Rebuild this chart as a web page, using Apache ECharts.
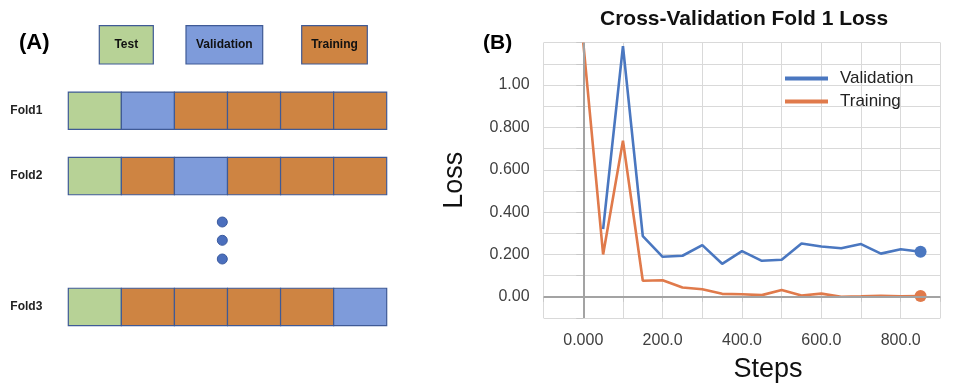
<!DOCTYPE html>
<html>
	<head>
		<meta charset="utf-8">
		<title>Cross-Validation Fold 1 Loss</title>
		<style type="text/css">
			html, body {
				margin: 0;
				padding: 0;
				background: #fff;
			}

			#main {
				width: 960px;
				height: 388px;
			}
		</style>
	</head>
	<body>
		<div id="main"></div>

		<script src="https://cdn.jsdelivr.net/npm/echarts@6/dist/echarts.min.js"></script>
		<script>
			// (A) 折叠划分
			var rowLabels = ['Fold1', 'Fold2', '', 'Fold3'];
			var fold1 = ['Test', 'Validation', 'Training', 'Training', 'Training', 'Training'];
			var fold2 = ['Test', 'Training', 'Validation', 'Training', 'Training', 'Training'];
			var fold3 = ['Test', 'Training', 'Training', 'Training', 'Training', 'Validation'];

			// (B) 损失曲线
			var steps = [0, 50, 100, 150, 200, 250, 300, 350, 400, 450, 500, 550, 600, 650, 700, 750, 800, 850];
			var validationLoss = [null, 0.32, 1.184, 0.287, 0.189, 0.194, 0.244, 0.156, 0.216, 0.17, 0.175, 0.252, 0.238, 0.229, 0.249, 0.204, 0.225, 0.213];
			var trainingLoss = [1.2, 0.2, 0.737, 0.076, 0.078, 0.044, 0.036, 0.014, 0.012, 0.008, 0.032, 0.006, 0.015, 0.0, 0.002, 0.005, 0.003, 0.004];

			var yTickValues = [0, 0.2, 0.4, 0.6, 0.8, 1.0];
			var yTickText = ['0.00', '0.200', '0.400', '0.600', '0.800', '1.00'];
			var xTickValues = [0, 200, 400, 600, 800];
			var xTickText = ['0.000', '200.0', '400.0', '600.0', '800.0'];

			var partColors = {
				Test: '#b7d296',
				Validation: '#7e9bda',
				Training: '#ce8442'
			};
			var cellBorder = '#3f5a96';
			var blue = '#4a77c0';
			var orange = '#e07a4b';
			var font = '"Liberation Sans", Arial, sans-serif';

			// 单元格
			var cells = [];
			var cellParts = [];
			[[fold1, 'Fold1'], [fold2, 'Fold2'], [fold3, 'Fold3']].forEach(function (f) {
				var row = rowLabels.indexOf(f[1]);
				f[0].forEach(function (part, col) {
					cells.push([col, row]);
					cellParts.push(part);
				});
			});

			function renderCell(params, api) {
				var start = api.coord([api.value(0), api.value(1)]);
				var size = api.size([1, 1]);
				var h = size[1] * 0.57;
				return {
					type: 'rect',
					shape: { x: start[0], y: start[1] - h / 2, width: size[0], height: h },
					style: { fill: partColors[cellParts[params.dataIndex]], stroke: cellBorder, lineWidth: 1.2 }
				};
			}

			function pickLabel(values, texts) {
				return function (v) {
					for (var i = 0; i < values.length; i++) {
						if (Math.abs(values[i] - v) < 1e-6) return texts[i];
					}
					return '';
				};
			}

			function pairs(ys) {
				return steps.map(function (s, i) { return [s, ys[i]]; });
			}

			// 图例方块
			var keyBoxes = [
				{ name: 'Test', x: 99.3, w: 54 },
				{ name: 'Validation', x: 186, w: 76.7 },
				{ name: 'Training', x: 301.7, w: 65.6 }
			];
			var graphics = [];
			keyBoxes.forEach(function (b) {
				graphics.push({
					type: 'rect',
					shape: { x: b.x, y: 25.7, width: b.w, height: 38.3 },
					style: { fill: partColors[b.name], stroke: cellBorder, lineWidth: 1.2 }
				});
				graphics.push({
					type: 'text',
					x: b.x + b.w / 2,
					y: 44.8,
					style: { text: b.name, font: 'bold 12px ' + font, fill: '#111', align: 'center', verticalAlign: 'middle' }
				});
			});
			[222, 240.3, 259].forEach(function (cy) {
				graphics.push({
					type: 'circle',
					shape: { cx: 222.3, cy: cy, r: 5 },
					style: { fill: '#4b6fbd', stroke: '#3a5a9e', lineWidth: 1 }
				});
			});
			graphics.push({
				type: 'text', x: 19, y: 43,
				style: { text: '(A)', font: 'bold 22px ' + font, fill: '#000', verticalAlign: 'middle' }
			});
			graphics.push({
				type: 'text', x: 483, y: 43,
				style: { text: '(B)', font: 'bold 21px ' + font, fill: '#000', verticalAlign: 'middle' }
			});

			var myChart = echarts.init(document.getElementById('main'));

			var option = {
				animation: false,
				title: {
					text: 'Cross-Validation Fold 1 Loss',
					left: 595,
					top: 4,
					textStyle: { fontFamily: font, fontSize: 21, fontWeight: 'bold', color: '#111' }
				},
				legend: {
					data: ['Validation', 'Training'],
					orient: 'vertical',
					left: 785,
					top: 70,
					padding: 0,
					icon: 'rect',
					itemWidth: 43,
					itemHeight: 4,
					itemGap: 6,
					textStyle: { fontFamily: font, fontSize: 17, color: '#222', padding: [0, 0, 0, 7] }
				},
				graphic: graphics,
				grid: [{
					left: 543.6,
					right: 19.6,
					top: 42.7,
					bottom: 70
				}, {
					left: 68.3,
					right: 573.3,
					top: 78,
					bottom: 48.4
				}],
				xAxis: [{
					type: 'value',
					min: -100,
					max: 900,
					interval: 100,
					name: 'Steps',
					nameLocation: 'middle',
					nameGap: 38,
					nameTextStyle: { fontFamily: font, fontSize: 27, color: '#111', padding: [0, 0, 0, 52] },
					axisLine: { show: true, lineStyle: { color: '#d4d4d4', width: 1 } },
					axisTick: { show: true, length: 5, lineStyle: { color: '#c8c8c8' } },
					axisLabel: {
						margin: 15,
						fontFamily: font,
						fontSize: 16,
						color: '#404040',
						formatter: pickLabel(xTickValues, xTickText)
					},
					splitLine: { show: true, lineStyle: { color: '#d9d9d9', width: 1 } }
				}, {
					gridIndex: 1,
					type: 'value',
					min: 0,
					max: 6,
					show: false
				}],
				yAxis: [{
					type: 'value',
					min: -0.1,
					max: 1.2,
					interval: 0.1,
					name: 'Loss',
					nameLocation: 'middle',
					nameGap: 76,
					nameTextStyle: { fontFamily: font, fontSize: 27, color: '#111' },
					axisLine: { show: true, lineStyle: { color: '#d4d4d4', width: 1 } },
					axisTick: { show: true, length: 7, lineStyle: { color: '#c8c8c8' } },
					axisLabel: {
						margin: 14,
						fontFamily: font,
						fontSize: 16,
						color: '#404040',
						formatter: pickLabel(yTickValues, yTickText)
					},
					splitLine: { show: true, lineStyle: { color: '#d9d9d9', width: 1 } }
				}, {
					gridIndex: 1,
					type: 'category',
					data: rowLabels,
					inverse: true,
					axisLine: { show: false },
					axisTick: { show: false },
					splitLine: { show: false },
					axisLabel: {
						margin: 26,
						fontFamily: font,
						fontSize: 12,
						fontWeight: 'bold',
						color: '#222'
					}
				}],
				series: [{
					name: 'zero',
					type: 'line',
					data: [],
					z: 1,
					markLine: {
						silent: true,
						symbol: 'none',
						label: { show: false },
						lineStyle: { color: '#a3a3a3', width: 2, type: 'solid' },
						data: [{ yAxis: 0 }, { xAxis: 0 }]
					}
				}, {
					name: 'Validation',
					type: 'line',
					z: 3,
					color: blue,
					data: pairs(validationLoss),
					connectNulls: false,
					symbol: 'circle',
					showAllSymbol: true,
					symbolSize: function (v, p) { return p.dataIndex === steps.length - 1 ? 12 : 0; },
					lineStyle: { width: 2.6, color: blue },
					itemStyle: { color: blue }
				}, {
					name: 'Training',
					type: 'line',
					z: 3,
					color: orange,
					data: pairs(trainingLoss),
					symbol: 'circle',
					showAllSymbol: true,
					symbolSize: function (v, p) { return p.dataIndex === steps.length - 1 ? 12 : 0; },
					lineStyle: { width: 2.6, color: orange },
					itemStyle: { color: orange }
				}, {
					name: 'folds',
					type: 'custom',
					xAxisIndex: 1,
					yAxisIndex: 1,
					data: cells,
					encode: { x: 0, y: 1 },
					renderItem: renderCell
				}]
			};

			myChart.setOption(option);
		</script>
	</body>
</html>
